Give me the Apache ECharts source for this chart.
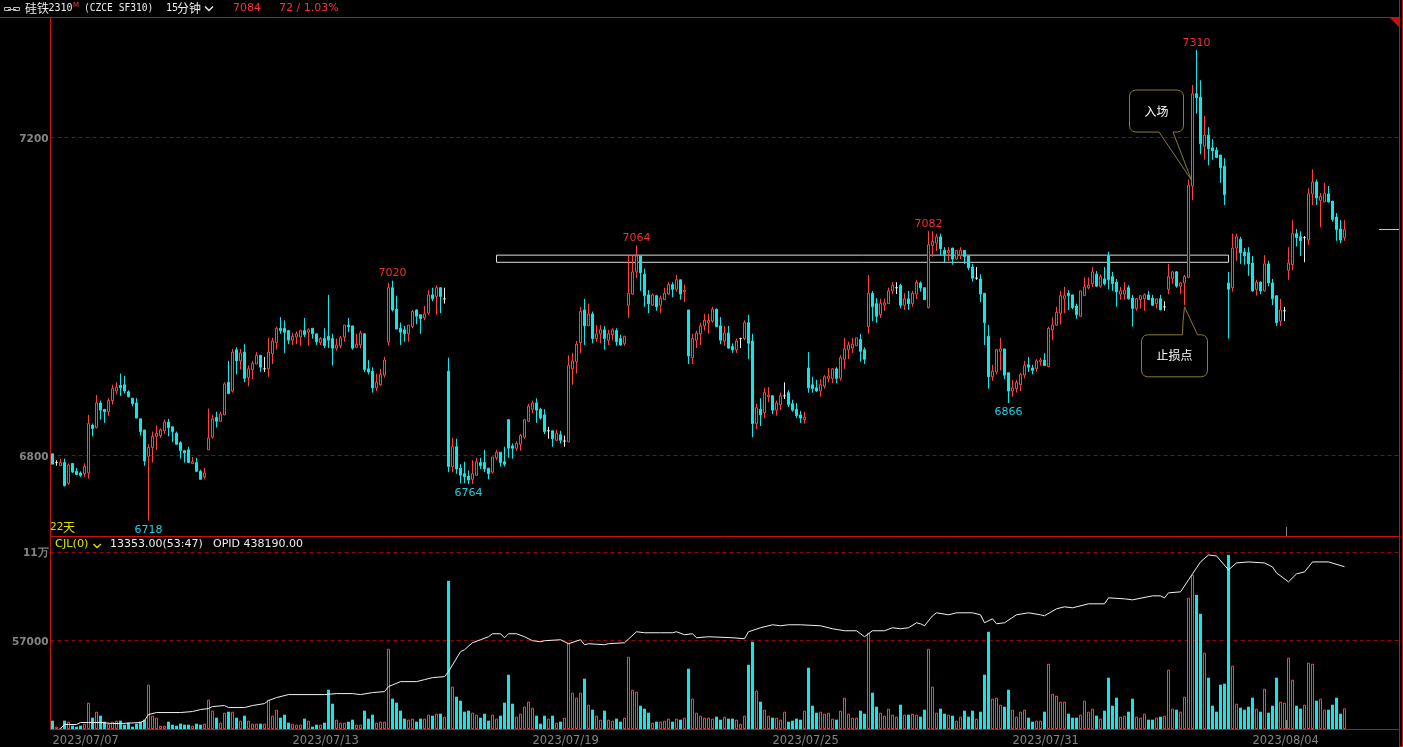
<!DOCTYPE html>
<html><head><meta charset="utf-8"><style>html,body{margin:0;padding:0;background:#000;overflow:hidden}#c{width:1403px;height:747px}</style>
<script src="https://cdn.jsdelivr.net/npm/echarts@6/dist/echarts.min.js"></script></head>
<body><div id="c"></div>
<script>
// [open, close, low, high], in session-like runs
const candlesRunA = [[6802,6789,6789,6802],[6791,6791,6787,6794],[6787,6791,6787,6796],[6791,6762,6761,6796],[6765,6788,6763,6790],[6790,6779,6778,6790],[6780,6776,6775,6784],[6778,6775,6773,6780],[6777,6786,6773,6790],[6778,6840,6771,6851],
[6838,6834,6824,6840],[6835,6866,6834,6876],[6866,6857,6845,6869],[6858,6855,6841,6858],[6855,6869,6850,6872],[6869,6884,6864,6889],[6881,6886,6877,6892],[6888,6885,6875,6903],[6889,6881,6878,6900],[6880,6874,6873,6882],
[6872,6865,6862,6872],[6866,6847,6847,6872],[6846,6830,6825,6846],[6832,6793,6787,6832],[6799,6810,6718,6814],[6810,6824,6791,6830],[6824,6828,6807,6838],[6825,6832,6822,6834],[6831,6842,6827,6845],[6842,6835,6824,6846],
[6836,6830,6817,6836],[6828,6814,6814,6830],[6816,6806,6796,6818],[6806,6803,6791,6806],[6807,6791,6791,6811],[6790,6792,6790,6798],[6791,6780,6779,6797],[6780,6770,6770,6782],[6773,6778,6770,6784],[6807,6822,6807,6859],
[6823,6846,6821,6851],[6848,6843,6835,6855],[6843,6852,6843,6855],[6851,6890,6851,6892],[6892,6878,6877,6919],[6881,6930,6879,6934],[6933,6919,6902,6936],[6919,6929,6908,6934],[6930,6897,6892,6940],[6898,6909,6887,6913],
[6908,6916,6896,6919],[6915,6926,6915,6930],[6926,6911,6905,6926],[6909,6909,6905,6924],[6909,6930,6899,6948],[6928,6944,6915,6948],[6942,6960,6933,6962],[6960,6957,6953,6974],[6960,6955,6929,6970],[6957,6945,6940,6958],
[6945,6950,6939,6954],[6949,6953,6940,6956],[6949,6957,6938,6958],[6957,6952,6949,6973],[6955,6958,6938,6960],[6960,6953,6947,6960],[6953,6943,6939,6953],[6942,6947,6939,6949],[6947,6938,6935,6960],[6950,6945,6935,7002],
[6947,6935,6913,6953],[6935,6939,6932,6947],[6938,6948,6935,6950],[6949,6964,6943,6964],[6964,6962,6955,6973],[6963,6935,6933,6963],[6936,6940,6935,6953],[6939,6954,6935,6957],[6953,6908,6905,6954],[6909,6905,6902,6920],
[6906,6885,6879,6911],[6885,6892,6881,6903],[6889,6902,6887,6909],[6901,6920,6898,6924],[6943,7011,6938,7017],[7011,6983,6981,7020],[6984,6959,6959,7001],[6960,6955,6939,6967],[6958,6953,6943,6963],[6953,6964,6943,6964],
[6962,6981,6960,6983],[6983,6975,6965,6984],[6977,6972,6953,6977],[6973,6978,6970,6988],[6979,7002,6977,7008],[7002,6997,6994,7011],[7000,7011,6977,7014],[7011,7000,6979,7011],[6997,6997,6991,7011]];
const candlesRunB = [[6906,6786,6779,6923],[6786,6811,6779,6822],[6811,6783,6777,6821],[6784,6775,6765,6789],[6777,6773,6765,6792],[6774,6769,6764,6781],[6770,6777,6764,6794],[6775,6792,6775,6797],[6791,6787,6783,6797],[6791,6783,6779,6807],
[6784,6777,6770,6784],[6779,6798,6777,6798],[6797,6804,6794,6807],[6804,6791,6786,6804],[6792,6789,6786,6811],[6845,6809,6797,6845],[6812,6809,6796,6815],[6809,6815,6806,6818],[6814,6825,6806,6827],[6823,6845,6821,6846],
[6843,6862,6842,6865],[6858,6866,6853,6869],[6866,6857,6841,6872],[6858,6847,6845,6860],[6851,6830,6827,6858],[6831,6831,6821,6836],[6831,6821,6811,6831],[6819,6828,6818,6832],[6826,6819,6815,6831],[6818,6818,6811,6825],
[6817,6913,6817,6926],[6909,6919,6889,6929],[6918,6940,6903,6944],[6942,6981,6929,6987],[6983,6963,6939,6997],[6963,6978,6963,6991],[6978,6947,6941,6981],[6947,6953,6943,6964],[6953,6958,6941,6964],[6958,6947,6933,6963],
[6945,6953,6939,6958],[6952,6958,6945,6960],[6957,6943,6938,6960],[6947,6939,6938,6952],[6941,6950,6938,6950]];
const candlesRunC = [[6989,7004,6973,7051],[7003,7031,7002,7051],[7031,7051,7023,7064],[7051,7030,7007,7051],[7028,7001,6987,7035],[7002,6991,6979,7008],[6989,7002,6988,7004],[7001,6987,6982,7002],[6989,6998,6979,7001],[6996,7004,6996,7011],
[7003,7015,7002,7018],[7015,7009,6999,7018],[7009,7021,7006,7027],[7021,7003,6996,7021],[7006,7008,6993,7015],[6983,6925,6915,6983],[6923,6947,6915,6953],[6945,6954,6935,6957],[6953,6963,6939,6967],[6963,6970,6957,6978],
[6967,6970,6953,6978],[6969,6984,6967,6987],[6984,6962,6962,6985],[6963,6945,6940,6974],[6944,6954,6938,6963],[6954,6935,6935,6963],[6937,6933,6929,6941],[6933,6944,6929,6947],[6947,6947,6935,6948],[6947,6967,6945,6970],
[6967,6941,6921,6977],[6944,6840,6823,6953],[6840,6860,6833,6865],[6858,6851,6837,6872],[6854,6879,6847,6885],[6874,6876,6867,6886],[6875,6857,6852,6876],[6857,6866,6850,6869],[6864,6875,6857,6879],[6875,6875,6871,6892],
[6879,6864,6861,6882],[6865,6857,6855,6870],[6858,6850,6847,6866],[6851,6847,6841,6856],[6845,6848,6840,6855],[6910,6885,6879,6930],[6889,6884,6879,6899],[6885,6881,6880,6895],[6881,6889,6874,6896],[6887,6899,6884,6901],
[6897,6900,6892,6910],[6897,6909,6891,6910],[6909,6897,6891,6911],[6897,6923,6894,6926],[6921,6934,6909,6948],[6933,6939,6921,6943],[6935,6940,6929,6948],[6938,6948,6938,6948],[6946,6931,6918,6953],[6933,6921,6915,6936]];
const candlesRunD = [[6962,7004,6953,7027],[7004,6987,6969,7007],[6991,6975,6967,6998],[6977,6991,6973,6997],[6989,6992,6982,6997],[6991,7007,6991,7011],[7007,7014,7003,7018],[7011,7011,7003,7018],[7014,6989,6985,7016],[6989,6997,6983,7004],
[6997,6991,6983,7007],[6991,7004,6987,7007],[7003,7018,6997,7021],[7017,7011,7006,7019],[7011,6996,6996,7011],[6986,7065,6985,7082],[7064,7069,7050,7082],[7067,7075,7057,7079],[7075,7060,7052,7079],[7058,7053,7043,7062],
[7055,7058,7045,7062],[7061,7047,7040,7061],[7047,7058,7046,7058],[7052,7058,7047,7062],[7058,7050,7041,7058],[7051,7036,7033,7051],[7037,7023,7019,7041],[7023,7023,7021,7037],[7022,7003,6993,7028],[7004,6967,6939,7004],
[6950,6899,6884,6964],[6899,6906,6894,6914],[6905,6933,6902,6934],[6931,6934,6907,6948],[6934,6901,6896,6934],[6904,6881,6866,6904],[6881,6885,6874,6895],[6884,6892,6879,6895],[6889,6902,6881,6904],[6901,6913,6897,6919],
[6914,6911,6905,6924],[6910,6907,6902,6914],[6909,6919,6905,6921],[6918,6920,6913,6923],[6920,6913,6913,6929],[6912,6960,6911,6962],[6958,6964,6945,6974],[6964,6980,6963,6987],[6979,7001,6965,7007],[6997,7001,6979,7012],
[7004,7001,6983,7008],[7002,6986,6984,7002],[6988,6977,6972,6991],[6975,7007,6975,7007],[7001,7012,7001,7024],[7011,7014,7009,7024],[7016,7031,7012,7037],[7028,7013,7012,7032],[7013,7025,7011,7028],[7022,7016,7014,7037],
[7051,7021,7009,7056],[7025,7016,7007,7031],[7018,7006,6987,7022],[7003,7007,6996,7012],[7003,7008,6996,7018],[7011,6997,6996,7014],[6998,6985,6962,7002],[6985,6997,6982,6998],[6996,7001,6985,7001],[6997,7002,6982,7004],
[7002,6996,6996,7007],[6998,6989,6988,7002],[6991,6997,6985,6997],[6997,6983,6983,7002],[6987,6987,6982,6994],[7009,7025,7003,7041],[7023,7031,7016,7032],[7031,7013,7011,7032],[7013,7017,7003,7018],[7017,7025,6989,7027]];
const candlesRunE = [[7024,7140,7023,7147],[7139,7255,7121,7266],[7255,7250,7230,7310],[7251,7192,7179,7272],[7189,7203,7172,7227],[7203,7186,7165,7213],[7187,7183,7172,7198],[7184,7175,7174,7188],[7178,7162,7143,7178],[7164,7128,7115,7174]];
const candlesRunF = [[7017,7009,6947,7031],[7011,7061,7006,7079],[7061,7075,7045,7079],[7072,7055,7041,7075],[7056,7051,7040,7061],[7055,7041,7026,7062],[7042,7007,7006,7051],[7009,7018,7001,7021],[7018,7007,7003,7019],[7007,7041,7006,7052],
[7041,7017,7013,7045],[7017,6997,6989,7022],[7001,6967,6963,7001],[6969,6983,6963,6997],[6982,6982,6969,6987],[7033,7042,7021,7062],[7040,7079,7033,7096],[7079,7074,7063,7085],[7075,7070,7051,7082],[7074,7074,7043,7076],
[7071,7129,7065,7136],[7129,7144,7115,7160],[7144,7124,7115,7147],[7121,7126,7087,7130],[7119,7130,7119,7143],[7129,7119,7118,7139],[7120,7097,7094,7120],[7100,7084,7070,7105],[7085,7071,7067,7096],[7074,7084,7070,7096]];

const volumes = [5375,1505,860,5375,4730,2150,1505,2150,3440,16985,7310,11180,8600,4730,3440,4730,5375,5375,2795,4085,1505,3440,4730,6020,28595,8600,7310,2150,2150,4730,2795,2150,3440,2795,2795,2150,3440,2795,3440,18920,11825,7310,4085,10535,11180,11180,7310,5375,8600,5375,3440,3440,3440,3440,18920,8600,12470,7310,9245,4085,3440,2795,2795,6665,5375,1505,2795,2795,4085,25370,16340,6020,4085,4085,4730,6020,2795,2795,11825,6665,9245,4085,4730,4730,51815,19565,16985,11825,6665,6020,6665,4730,6665,6665,9245,8600,9890,9890,7955,
95675,27305,20855,18275,11180,11825,10535,9245,7310,9890,5375,9245,6665,8600,16985,35045,16340,7955,9890,14405,17630,13760,8600,3440,8600,6665,8600,4085,4730,7310,55685,23435,20210,23435,32465,15695,12470,8600,6020,11825,6020,5375,6665,4730,7310,
46655,25370,24080,15050,13115,10535,4085,4730,4730,5375,6665,4730,6665,6020,7310,38915,19565,10535,8600,7310,7310,6665,7955,6020,7955,6665,6665,6020,3440,8600,41495,56330,24725,17630,12470,8600,7310,7310,6020,11180,4730,5375,6665,6020,11825,39560,15050,10535,11180,9890,10535,6665,6020,11825,20210,9890,7310,7310,11825,9890,
62135,23435,14405,10535,8600,13115,9245,7955,15695,9245,9245,9890,9245,7955,12470,51815,27305,10535,13115,9890,9245,8600,5375,7955,11825,7955,11825,6665,11180,35045,62780,19565,20210,15695,14405,25370,12470,7955,11180,12470,7310,4730,5375,5375,11180,42140,22790,21500,17630,17630,9890,7310,7310,9245,18275,11180,13115,8600,6665,11825,33110,15050,20210,7955,8600,11180,19565,7955,7310,9890,6020,6020,7310,7955,8600,38270,13115,12470,11180,20855,
84710,99545,86645,74390,49235,33110,15050,11180,28595,29240,112445,40850,16340,13760,12470,14405,20210,13115,11180,26015,10535,15050,33110,17630,16985,46010,31820,15050,13115,15695,42785,42140,18275,19565,12470,12470,15695,20210,9890,13353];

// open interest, in thousands of lots: bar number and the reading at that bar
const opidBars = [2,3,4,6,7,9,12,15,17,22,23,24,26,32,35,37,39,40,43,44,48,50,53,54,56,59,68,71,75,77,80,83,84,87,91,93,95,98,99,102,103,105,107,109,110,112,113,114,116,118,120,122,123,127,129,132,133,134,138,139,143,146,148,152,155,156,158,160,161,164,170,173,174,177,180,182,184,187,192,195,198,201,203,205,208,210,212,214,216,217,218,220,221,224,226,230,232,233,235,236,238,241,244,247,248,251,253,255,259,263,264,268,270,275,277,278,279,282,284,286,287,289,291,294,296,299,303,305,306,309,311,313,315,319,323];
const opidThousands = [276,280,280,280,282,282,282,281,281,282,284,290,292,292,293,295,296,298,299,297,297,299,301,304,307,310,310,311,311,310,312,313,318,323,323,325,327,328,333,353,355,362,365,368,371,371,367,371,371,368,364,363,364,365,361,365,360,361,360,361,362,373,372,372,372,373,370,371,367,368,367,366,373,377,380,379,380,380,379,376,374,374,368,374,374,377,376,377,382,381,379,389,392,390,392,392,390,382,386,381,382,390,392,390,389,396,398,397,401,401,407,406,405,409,409,407,412,413,425,437,443,450,449,435,442,443,442,438,432,423,431,433,443,443,438.19];

const dateLabels = ['2023/07/07','2023/07/13','2023/07/19','2023/07/25','2023/07/31','2023/08/04'];
const barsPerDateLabel = 60;
const axisSlots = 337;
const priceTicks = [6800,7200];
const volumeTicks = [57000,114000];
const extremes = [[24,6718,'low'],[85,7020,'high'],[104,6764,'low'],[146,7064,'high'],[219,7082,'high'],[239,6866,'low'],[286,7310,'high']];
const zone = {fromBar:111,toBar:294,low:7043,high:7052};
const lastPrice = 7084;

const RED='#ff4040',CYAN='#0ee8e8',FRAME='#c81010',DASH='#8f0606',GRAY='#858585',YEL='#e0e000';
const LAT='"DejaVu Sans",sans-serif',CJK='"Noto Sans CJK SC",sans-serif',MONO='"DejaVu Sans Mono",monospace';

const candles = [].concat(candlesRunA,candlesRunB,candlesRunC,candlesRunD,candlesRunE,candlesRunF);
const categories = Array.from({length:axisSlots},(_,i)=> i%barsPerDateLabel===0 && dateLabels[i/barsPerDateLabel] ? dateLabels[i/barsPerDateLabel] : '');
const isUp = i => candles[i][1]>=candles[i][0];
const volumeData = volumes.map((v,i)=>({value:v,itemStyle:isUp(i)?{color:'#000',borderColor:RED,borderWidth:1}:{color:CYAN,borderWidth:0}}));
const opidLine = opidBars.map((b,i)=>[b,opidThousands[i]*1000]);

const chart = echarts.init(document.getElementById('c'),null,{width:1403,height:747,renderer:'canvas'});
const grayText = {color:GRAY,fontFamily:LAT,fontSize:10.5,fontWeight:'bold'};
const grayRich = {n:Object.assign({padding:[4,0,0,0]},grayText),u:Object.assign({padding:[2,0,0,0]},grayText)};
const dashed = {show:true,lineStyle:{color:DASH,type:[4,3],width:1}};
chart.setOption({
  animation:false,backgroundColor:'#000',
  grid:[{left:50.5,top:17.5,width:1348,height:519},{left:50.5,top:536.5,width:1348,height:193}],
  xAxis:[
    {type:'category',gridIndex:0,data:categories,axisLine:{show:false},axisTick:{show:false},axisLabel:{show:false},splitLine:{show:false}},
    {type:'category',gridIndex:1,data:categories,axisLine:{show:false},axisTick:{show:false},splitLine:{show:false},
     axisLabel:{interval:0,align:'left',color:GRAY,fontFamily:LAT,fontSize:11.5,margin:6}}],
  yAxis:[
    {type:'value',gridIndex:0,min:6698,max:7351,axisLine:{show:false},axisTick:{show:false,customValues:priceTicks},splitLine:dashed,
      axisLabel:{customValues:priceTicks,margin:2,rich:grayRich,formatter:v=>'{n|'+v+'}'}},
    {type:'value',gridIndex:1,min:0,max:124300,axisLine:{show:false},axisTick:{show:false,customValues:volumeTicks},splitLine:dashed,
      axisLabel:{customValues:volumeTicks,margin:2,rich:grayRich,formatter:v=>v>=100000?'{u|'+Math.floor(v/10000)+'万}':'{n|'+v+'}'}},
    {type:'value',gridIndex:1,min:275500,max:468500,show:false,splitLine:{show:false}}],
  series:[
    {type:'candlestick',xAxisIndex:0,yAxisIndex:0,data:candles,barWidth:3,
     itemStyle:{color:'#000',color0:CYAN,borderColor:RED,borderColor0:CYAN,borderColorDoji:'#eee',borderWidth:1},
     markArea:{silent:true,itemStyle:{color:'rgba(0,0,0,0)',borderColor:'#ddd',borderWidth:1},
       data:[[{coord:[zone.fromBar,zone.high]},{coord:[zone.toBar,zone.low]}]]},
     markPoint:{silent:true,symbolSize:0,data:extremes.map(e=>({coord:[e[0],e[1]],value:e[1],
        label:{show:true,position:e[2]==='high'?'top':'bottom',distance:e[2]==='high'?1.5:4,color:e[2]==='high'?'#f03030':'#1cd0e4',fontFamily:LAT,fontSize:11}}))}},
    {type:'bar',xAxisIndex:1,yAxisIndex:1,data:volumeData,barWidth:3},
    {type:'line',xAxisIndex:1,yAxisIndex:2,data:opidLine,showSymbol:false,symbol:'none',connectNulls:true,lineStyle:{color:'#f0f0f0',width:1},z:5}
  ]
});

function txt(x,y,t,fill,font,size){return {type:'text',x,y,silent:true,z:50,style:{text:t,fill,font:size+'px '+font,textVerticalAlign:'middle'}};}
function line(x1,y1,x2,y2,c){return {type:'line',silent:true,z:40,shape:{x1,y1,x2,y2},style:{stroke:c,lineWidth:1}};}
function arc(pts,tip,cx,cy,r,a0){for(let k=0;k<=3;k++){const a=a0+k*Math.PI/6;pts.push([tip[0]+cx+r*Math.cos(a),tip[1]+cy+r*Math.sin(a)]);}}
function bubble(tip,L,R,T,B,pointer,label,r){
  const pts=[]; const p=(x,y)=>pts.push([tip[0]+x,tip[1]+y]);
  if(pointer.side==='top'){pointer.pts.forEach(q=>p(q[0],q[1]));}
  arc(pts,tip,R-r,T+r,r,-Math.PI/2);arc(pts,tip,R-r,B-r,r,0);
  if(pointer.side==='bottom'){pointer.pts.forEach(q=>p(q[0],q[1]));}
  arc(pts,tip,L+r,B-r,r,Math.PI/2);arc(pts,tip,L+r,T+r,r,Math.PI);
  pts.push(pts[0]);
  return [{type:'polyline',silent:true,z:45,shape:{points:pts},style:{stroke:'#8a7a3e',lineWidth:1,fill:null}},
    {type:'text',silent:true,z:50,x:tip[0]+(L+R)/2,y:tip[1]+(T+B)/2,style:{text:label,fill:'#fff',font:'12px '+CJK,textAlign:'center',textVerticalAlign:'middle'}}];
}
const entryTip=chart.convertToPixel({gridIndex:0},[285,7146.5]);
const stopTip=chart.convertToPixel({gridIndex:0},[283,6987]);
const lastY=chart.convertToPixel({yAxisIndex:0},lastPrice);
const els=[
  line(0,17.5,1399,17.5,FRAME),line(50.5,17,50.5,730,FRAME),line(1399.5,0,1399.5,746.5,FRAME),line(1402.5,0,1402.5,746.5,FRAME),
  line(1399,746.5,1403,746.5,FRAME),
  line(50,536.5,1399,536.5,FRAME),line(50,729.5,1399,729.5,FRAME),
  {type:'polygon',silent:true,z:41,shape:{points:[[1390,18],[1399,18],[1399,27]]},style:{fill:FRAME}},
  line(1379,Math.round(lastY)-.5,1399,Math.round(lastY)-.5,YEL),
  line(1286.5,527,1286.5,536,'#888'),line(1286.5,720,1286.5,729,'#888'),
  // header
  {type:'rect',silent:true,z:50,shape:{x:4.5,y:7.5,width:6,height:3},style:{stroke:'#bbb',fill:null}},
  {type:'rect',silent:true,z:50,shape:{x:13.5,y:7.5,width:6,height:3},style:{stroke:'#bbb',fill:null}},
  line(8,9.5,16,9.5,'#bbb'),
  txt(25,8.5,'硅铁','#eee',CJK,12),txt(48.5,8.5,'2310','#eee',MONO,10),txt(73,5.5,'M',RED,LAT,7),
  txt(84,8.5,'(CZCE SF310)','#eee',MONO,9.6),
  txt(166,8.5,'15','#eee',MONO,10),txt(177,8.5,'分钟','#eee',CJK,12),
  {type:'polyline',silent:true,z:50,shape:{points:[[205,6.5],[209,10.5],[213,6.5]]},style:{stroke:'#eee',lineWidth:1.4,fill:null}},
  txt(233,8.5,'7084','#ff3030',LAT,11),txt(279,8.5,'72 / 1.03%','#ff3030',LAT,11),
  // lower pane caption
  txt(50,527.5,'22',YEL,LAT,10.5),txt(63,527.5,'天',YEL,CJK,12),
  txt(55,544.5,'CJL(0)',YEL,LAT,11.3),
  {type:'polyline',silent:true,z:50,shape:{points:[[93.5,544],[97,547.5],[101,544]]},style:{stroke:YEL,lineWidth:1.4,fill:null}},
  txt(110,544.5,'13353.00(53:47)','#eee',LAT,11),txt(213,544.5,'OPID 438190.00','#eee',LAT,11)
];
els.push(...bubble(entryTip,-63,-9,-90,-48,{side:'bottom',pts:[[-19.5,-48],[-1,0],[-33.5,-48]]},'入场',6));
els.push(...bubble(stopTip,-43,23,28,70,{side:'top',pts:[[-2,28],[-1.5,15],[0,0],[13,28]]},'止损点',6));
chart.setOption({graphic:{elements:els}});
</script></body></html>
